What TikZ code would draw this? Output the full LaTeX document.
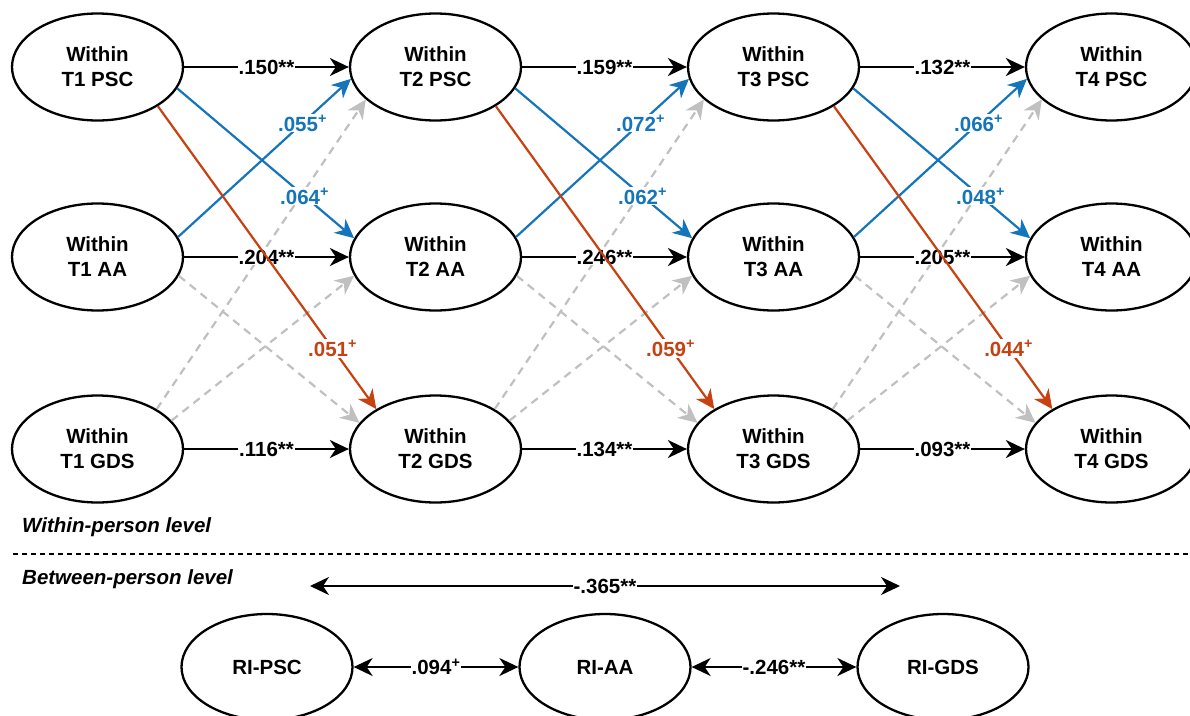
\documentclass[tikz,border=0pt]{standalone}
\usepackage{fontspec}
\setmainfont{Liberation Sans}
\usetikzlibrary{arrows.meta,shapes.geometric}
\definecolor{pblue}{RGB}{21,117,186}
\definecolor{pred}{RGB}{198,66,18}
\definecolor{pgray}{RGB}{192,192,192}
\newcommand\myfont{\fontsize{20.5}{25}\selectfont\bfseries}
\tikzset{
  lat/.style={ellipse, draw, line width=2.3pt, minimum width=171pt, minimum height=107pt,
    inner sep=0pt, align=center, font=\myfont},
  arr/.style={line width=2.2pt, draw=black, -{Stealth[length=19pt,width=18pt,inset=6pt]}},
  darr/.style={line width=2.2pt, {Stealth[length=19pt,width=18pt,inset=6pt]}-{Stealth[length=19pt,width=18pt,inset=6pt]}},
  barr/.style={line width=2.2pt, draw=pblue, -{Stealth[length=19pt,width=18pt,inset=6pt,fill=pblue]}},
  rarr/.style={line width=2.2pt, draw=pred, -{Stealth[length=19pt,width=18pt,inset=6pt,fill=pred]}},
  garr/.style={line width=2.2pt, draw=pgray, dash pattern=on 8pt off 6pt,
    -{Stealth[length=19pt,width=18pt,inset=6pt,fill=pgray]}},
  lab/.style={fill=white, inner sep=1pt, font=\myfont},
  sepline/.style={line width=1.3pt, dash pattern=on 5pt off 4pt},
  lvl/.style={anchor=west, inner sep=0pt, font=\myfont\itshape},
}
\begin{document}
\begin{tikzpicture}[x=1pt,y=-1pt]
\useasboundingbox (0,0) rectangle (1190,715);
% within-person nodes
\foreach \t/\x in {1/97.5,2/435.5,3/773.5,4/1111.5}{
  \node[lat] (p\t) at (\x,67) {Within\\T\t{} PSC};
  \node[lat] (a\t) at (\x,257) {Within\\T\t{} AA};
  \node[lat] (g\t) at (\x,449) {Within\\T\t{} GDS};
}
% paths
\foreach \s/\t/\vA/\vB/\vC/\vD/\vE/\vF in
  {1/2/.150/.204/.116/.064/.055/.051,
   2/3/.159/.246/.134/.062/.072/.059,
   3/4/.132/.205/.093/.048/.066/.044}{
  \draw[garr] (a\s.-13.5) -- (g\t.161.8);
  \draw[garr] (g\s.21) -- (a\t.-167.6);
  \draw[garr] (g\s.34) -- (p\t.-155.8);
  \draw[arr] (p\s.east) -- node[lab]{\vA**} (p\t.west);
  \draw[arr] (a\s.east) -- node[lab]{\vB**} (a\t.west);
  \draw[arr] (g\s.east) -- node[lab]{\vC**} (g\t.west);
  \draw[barr] (p\s.-15) -- node[lab, text=pblue, pos=0.72]{\vD\textsuperscript{+}} (a\t.167);
  \draw[barr] (a\s.14.4) -- node[lab, text=pblue, pos=0.72]{\vE\textsuperscript{+}} (p\t.-172.5);
  \draw[rarr] (p\s.-33) -- node[lab, text=pred, pos=0.8]{\vF\textsuperscript{+}} (g\t.146);
}
% levels
\node[lvl] (wl) at (22,527) {Within-person level};
\node[lvl] (bl) at (22,579) {Between-person level};
\coordinate (sl) at (13,554);
\coordinate (sr) at (1190,554);
\draw[sepline] (sl) -- (sr);
% between-person nodes
\node[lat, minimum height=106pt] (rp) at (267,667) {RI-PSC};
\node[lat, minimum height=106pt] (ra) at (605,667) {RI-AA};
\node[lat, minimum height=106pt] (rg) at (943,667) {RI-GDS};
\draw[darr] (rp) -- node[lab]{.094\textsuperscript{+}} (ra);
\draw[darr] (ra) -- node[lab]{-.246**} (rg);
\coordinate (cl) at (310,586);
\coordinate (cr) at (900,586);
\draw[darr] (cl) -- node[lab]{-.365**} (cr);
\end{tikzpicture}
\end{document}
